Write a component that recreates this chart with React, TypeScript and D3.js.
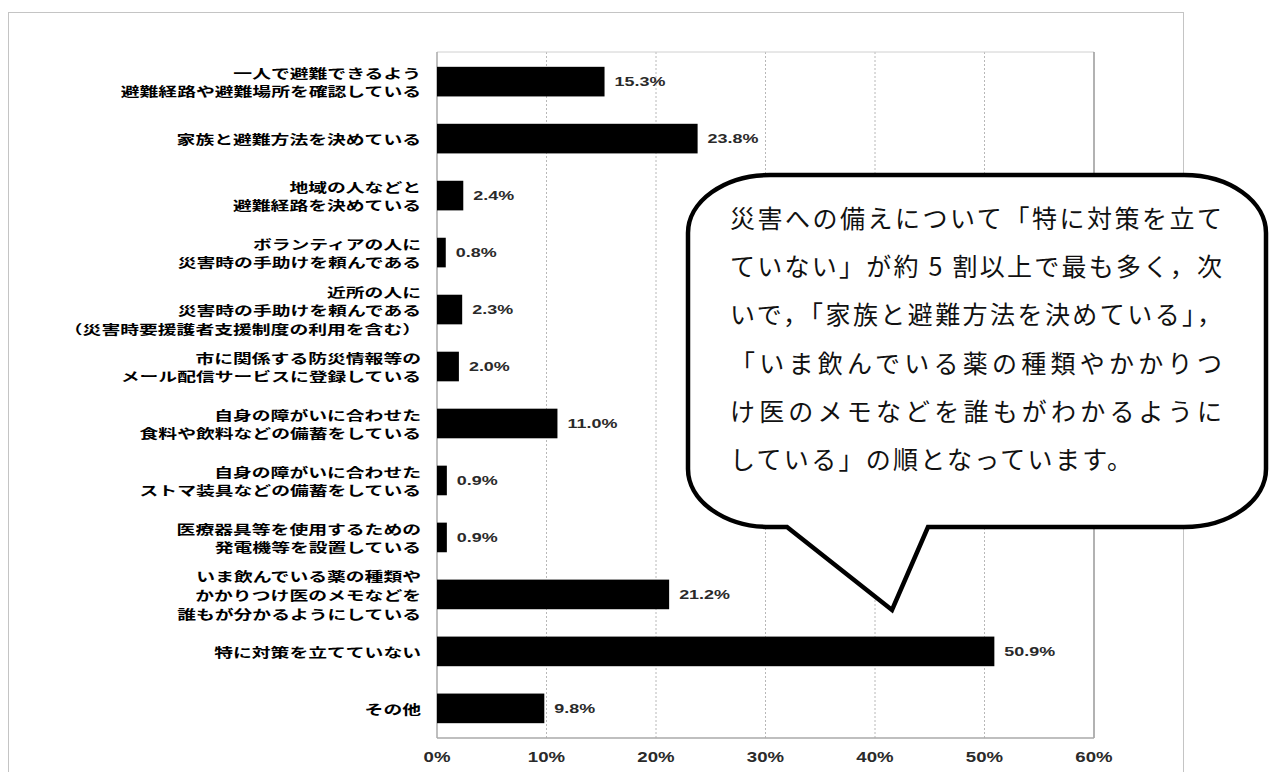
import React from "react";
import * as d3 from "d3";

// 災害への備え（複数回答）
const categories: string[][] = [
  ["一人で避難できるよう", "避難経路や避難場所を確認している"],
  ["家族と避難方法を決めている"],
  ["地域の人などと", "避難経路を決めている"],
  ["ボランティアの人に", "災害時の手助けを頼んである"],
  ["近所の人に", "災害時の手助けを頼んである", "（災害時要援護者支援制度の利用を含む）"],
  ["市に関係する防災情報等の", "メール配信サービスに登録している"],
  ["自身の障がいに合わせた", "食料や飲料などの備蓄をしている"],
  ["自身の障がいに合わせた", "ストマ装具などの備蓄をしている"],
  ["医療器具等を使用するための", "発電機等を設置している"],
  ["いま飲んでいる薬の種類や", "かかりつけ医のメモなどを", "誰もが分かるようにしている"],
  ["特に対策を立てていない"],
  ["その他"],
];

const values: number[] = [15.3, 23.8, 2.4, 0.8, 2.3, 2.0, 11.0, 0.9, 0.9, 21.2, 50.9, 9.8];

const xTicks: number[] = [0, 10, 20, 30, 40, 50, 60];

const calloutLines: string[] = [
  "災害への備えについて「特に対策を立て",
  "ていない」が約 5 割以上で最も多く，次",
  "いで，「家族と避難方法を決めている」，",
  "「いま飲んでいる薬の種類やかかりつ",
  "け医のメモなどを誰もがわかるように",
  "している」の順となっています。",
];

const W = 1275;
const H = 772;
const plot = { left: 437, right: 1094, top: 52, bottom: 738 };
const numStretch = 1.33;
const labelStretch = 1.47;
const jpFont = "'Noto Sans CJK JP', 'Noto Sans', sans-serif";
const numFont = "'Liberation Sans', Arial, sans-serif";

export default function App() {
  const x = d3.scaleLinear().domain([0, 60]).range([plot.left, plot.right]);
  const ids = categories.map((_, i) => String(i));
  const y = d3
    .scaleBand<string>()
    .domain(ids)
    .range([plot.top, plot.bottom])
    .paddingInner(0.48)
    .paddingOuter(0.26);

  // callout shape
  const c = { l: 688, r: 1266, t: 175, b: 527, rx: 82, ry: 58 };
  const calloutPath = [
    `M${c.l + c.rx},${c.t}`,
    `H${c.r - c.rx}`,
    `A${c.rx},${c.ry} 0 0 1 ${c.r},${c.t + c.ry}`,
    `V${c.b - c.ry}`,
    `A${c.rx},${c.ry} 0 0 1 ${c.r - c.rx},${c.b}`,
    `H928`,
    `L892,610`,
    `L787,${c.b}`,
    `H${c.l + c.rx}`,
    `A${c.rx},${c.ry} 0 0 1 ${c.l},${c.b - c.ry}`,
    `V${c.t + c.ry}`,
    `A${c.rx},${c.ry} 0 0 1 ${c.l + c.rx},${c.t}`,
    "Z",
  ].join(" ");

  const lineH = 18.6;

  return (
    <svg
      width={W}
      height={H}
      style={{ position: "absolute", left: 0, top: 0, display: "block", background: "#fff" }}
    >
      {/* outer frame */}
      <rect x={8.5} y={12.5} width={1175} height={800} fill="none" stroke="#c4c4c4" strokeWidth={1} />

      {/* grid */}
      {xTicks
        .filter((t) => t > 0 && t < 60)
        .map((t) => (
          <line
            key={"g" + t}
            x1={x(t)}
            x2={x(t)}
            y1={plot.top}
            y2={plot.bottom}
            stroke="#b8b8b8"
            strokeWidth={1}
            strokeDasharray="2,2"
          />
        ))}
      <line x1={plot.left} x2={plot.right} y1={plot.top} y2={plot.top} stroke="#d0d0d0" />
      <line x1={plot.right} x2={plot.right} y1={plot.top} y2={plot.bottom} stroke="#999" strokeWidth={1.5} />
      <line x1={plot.left} x2={plot.right} y1={plot.bottom} y2={plot.bottom} stroke="#aaa" strokeWidth={1.5} />
      <line x1={plot.left} x2={plot.left} y1={plot.top} y2={plot.bottom} stroke="#aaa" strokeWidth={1.5} />

      {/* bars */}
      {values.map((v, i) => (
        <rect
          key={"b" + i}
          x={x(0)}
          y={y(ids[i])}
          width={x(v) - x(0)}
          height={y.bandwidth()}
          fill="#000"
        />
      ))}

      {/* value labels */}
      {values.map((v, i) => (
        <text
          key={"v" + i}
          transform={`translate(${x(v) + 10},${(y(ids[i]) as number) + y.bandwidth() / 2}) scale(${numStretch},1)`}
          fontFamily={numFont}
          fontWeight="bold"
          fontSize={13.5}
          fill="#2a2a2a"
          dominantBaseline="central"
        >
          {v.toFixed(1) + "%"}
        </text>
      ))}

      {/* category labels */}
      {categories.map((lines, i) => {
        const cy = (y(ids[i]) as number) + y.bandwidth() / 2;
        return lines.map((ln, j) => (
          <text
            key={"c" + i + "-" + j}
            transform={`translate(421,${cy + (j - (lines.length - 1) / 2) * lineH}) scale(${labelStretch},1)`}
            fontFamily={jpFont}
            fontWeight="bold"
            fontSize={12.8}
            fill="#000"
            textAnchor="end"
            dominantBaseline="central"
          >
            {ln}
          </text>
        ));
      })}

      {/* x tick labels */}
      {xTicks.map((t) => (
        <text
          key={"t" + t}
          transform={`translate(${x(t)},757) scale(${numStretch},1)`}
          fontFamily={numFont}
          fontWeight="bold"
          fontSize={14}
          fill="#2a2a2a"
          textAnchor="middle"
          dominantBaseline="central"
        >
          {t + "%"}
        </text>
      ))}

      {/* callout */}
      <path d={calloutPath} fill="#fff" stroke="#000" strokeWidth={4.5} strokeLinejoin="miter" />
      {calloutLines.map((ln, i) => (
        <text
          key={"l" + i}
          x={730}
          y={217 + i * 48.2}
          fontFamily={jpFont}
          fontSize={25}
          fill="#111"
          dominantBaseline="central"
          textLength={i < 5 ? 492 : 402}
          lengthAdjust="spacing"
        >
          {ln}
        </text>
      ))}
    </svg>
  );
}
